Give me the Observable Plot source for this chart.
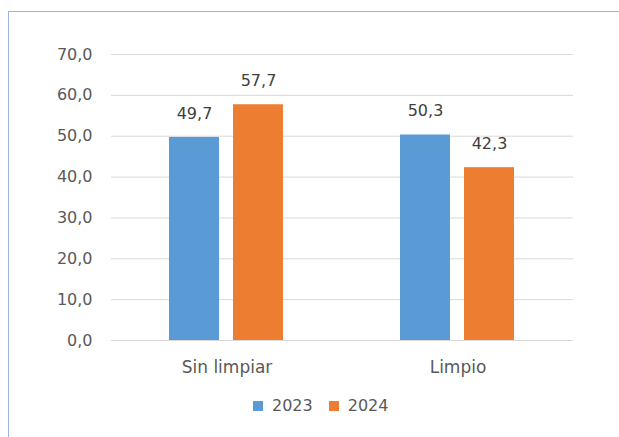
<!DOCTYPE html>
<html>
<head>
<meta charset="utf-8">
<script src="https://cdn.jsdelivr.net/npm/d3@7"></script>
<script src="https://cdn.jsdelivr.net/npm/@observablehq/plot@0.6"></script>
<style>
  html, body { margin: 0; padding: 0; background: #fff; }
  #wrap { position: relative; width: 619px; height: 437px; overflow: hidden; font-family: "DejaVu Sans", sans-serif; }
  #frame { position: absolute; left: 8px; top: 11px; width: 700px; height: 500px; border-left: 1.5px solid #9db3e3; border-top: 1.5px solid #9db3e3; }
  #chart { position: absolute; left: 0; top: 0; }
  #legend { position: absolute; left: 253px; top: 389px; }
  #legend [class$="-swatch"] { margin-right: 16px !important; }
  #legend [class$="-swatch"] > svg { margin-right: 9px !important; }
</style>
</head>
<body>
<div id="wrap">
  <div id="frame"></div>
  <div id="chart"></div>
  <div id="legend"></div>
</div>
<script>
const categories = ["Sin limpiar", "Limpio"];
const years = ["2023", "2024"];
const values2023 = [49.7, 50.3];
const values2024 = [57.7, 42.3];
const yTicks = [0, 10, 20, 30, 40, 50, 60, 70];
const colors = ["#5b9bd5", "#ed7d31"];

const data = [];
categories.forEach((c, i) => {
  data.push({cat: c, year: years[0], value: values2023[i]});
  data.push({cat: c, year: years[1], value: values2024[i]});
});
const fmt = d => d.toFixed(1).replace(".", ",");
const font = "'DejaVu Sans', sans-serif";

const chart = Plot.plot({
  width: 619,
  height: 437,
  marginLeft: 111,
  marginRight: 46,
  marginTop: 54,
  marginBottom: 97,
  style: {fontFamily: font, fontSize: "16px", color: "#595959", background: "transparent"},
  fx: {domain: categories, padding: 0, label: null},
  x: {domain: years, paddingInner: 0.215, paddingOuter: 0.885, axis: null},
  y: {domain: [0, 70], label: null},
  color: {domain: years, range: colors},
  marks: [
    Plot.axisY({ticks: yTicks, tickFormat: fmt, tickSize: 0, tickPadding: 19, fontSize: 16, facetAnchor: "left", label: null}),
    Plot.gridY(yTicks, {stroke: "#d9d9d9", strokeOpacity: 1, strokeWidth: 1}),
    Plot.axisFx({anchor: "bottom", tickSize: 0, tickPadding: 20, fontSize: 17, label: null}),
    Plot.barY(data, {fx: "cat", x: "year", y: "value", fill: "year"}),
    Plot.text(data, {fx: "cat", x: "year", y: "value", text: d => fmt(d.value), dy: -24, fontSize: 16, fill: "#404040"})
  ]
});
document.getElementById("chart").appendChild(chart);

const legend = Plot.legend({
  color: {domain: years, range: colors},
  legend: "swatches",
  swatchSize: 10,
  style: {fontFamily: font, fontSize: "16px", color: "#595959", background: "transparent"}
});
document.getElementById("legend").appendChild(legend);
</script>
</body>
</html>
